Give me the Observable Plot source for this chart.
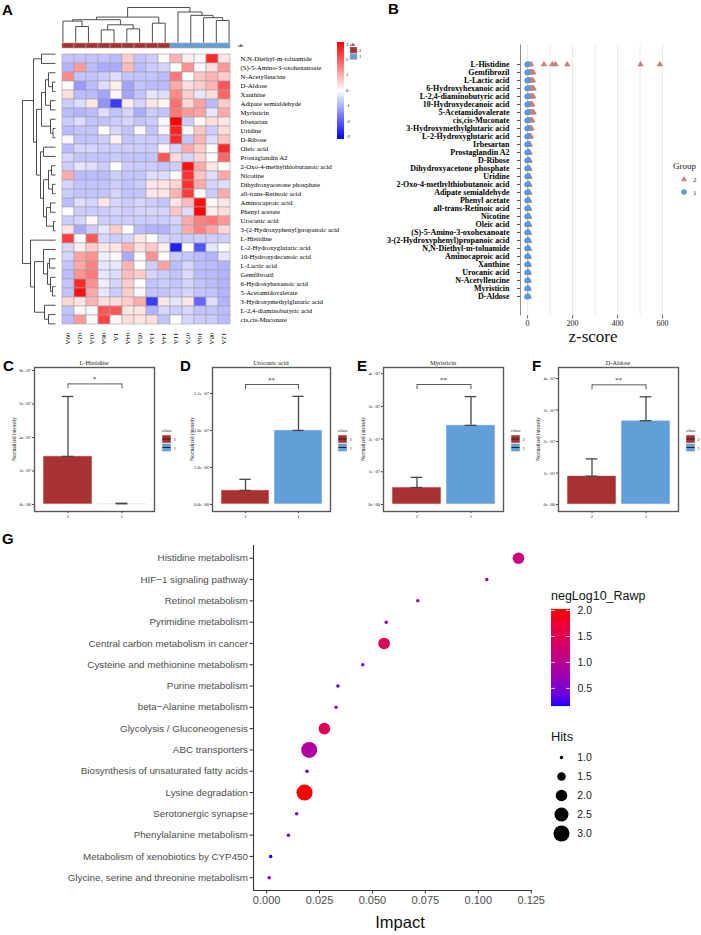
<!DOCTYPE html>
<html><head><meta charset="utf-8">
<script src="https://cdn.jsdelivr.net/npm/d3@7"></script>
<script src="https://cdn.jsdelivr.net/npm/@observablehq/plot@0.6"></script>
<style>
body{margin:0;background:#fff;}
#root{position:relative;width:701px;height:935px;overflow:hidden;background:#fff;}
</style></head><body><div id="root"></div><script>
// ---------------- DATA ----------------
// Panel A heatmap
const hmCols = ["09A","02A","03A","06A","1A","04A","05A","13A","14A","11A","07A","10A","08A","12A"];
const hmClass = [2,2,2,2,2,2,2,2,2,1,1,1,1,1];
const hmRows = ["N,N-Diethyl-m-toluamide","(S)-5-Amino-3-oxohexanoate","N-Acetylleucine","D-Aldose","Xanthine","Adipate semialdehyde","Myristicin","Irbesartan","Uridine","D-Ribose","Oleic acid","Prostaglandin A2","2-Oxo-4-methylthiobutanoic acid","Nicotine","Dihydroxyacetone phosphate","all-trans-Retinoic acid","Aminocaproic acid","Phenyl acetate","Urocanic acid","3-(2-Hydroxyphenyl)propanoic acid","L-Histidine","L-2-Hydroxyglutaric acid","10-Hydroxydecanoic acid","L-Lactic acid","Gemfibrozil","6-Hydroxyhexanoic acid","5-Acetamidovalerate","3-Hydroxymethylglutaric acid","L-2,4-diaminobutyric acid","cis,cis-Muconate"];
const hmValues = [
 [-0.7,-0.7,-0.7,-0.7,-0.8,0.6,-0.7,-0.6,0.1, 0.9,0.2,0.1,2.5,0.3],
 [-0.9,1.2,-0.8,-1.0,-1.0,0.8,-0.8,-0.6,-0.5, 0.0,1.3,-0.1,0.4,1.2],
 [1.4,-0.7,-0.7,-0.6,-0.4,-0.7,-0.7,-0.7,-0.8, 1.6,0.0,0.7,0.9,0.6],
 [0.05,-1.2,-0.8,-0.4,0.2,-1.1,-0.7,-0.8,-0.8, 1.0,0.4,0.6,0.9,2.0],
 [0.4,-0.8,-0.8,-1.1,0.1,-1.1,-0.7,-0.3,-0.4, 1.4,0.6,-0.3,0.4,1.8],
 [-0.6,-0.4,0.3,-1.3,-2.3,0.2,-0.5,0.3,0.15, 1.7,0.5,1.1,-0.8,0.6],
 [-0.8,-0.9,-0.8,-0.4,-0.7,-0.5,-1.0,-0.6,-0.7, 1.6,1.2,1.1,-0.3,1.0],
 [-0.6,-0.4,-0.7,-0.7,-0.6,-0.5,-0.7,-0.6,-0.1, 3.0,-0.6,0.1,0.4,0.3],
 [-0.8,-0.7,-0.7,0.0,-0.5,-0.7,-0.1,-0.7,-0.1, 2.6,0.1,0.7,-0.6,0.4],
 [-0.1,-0.7,-0.7,-0.6,0.15,-0.7,-0.6,-0.6,-0.6, 2.5,-0.7,0.9,-0.4,0.7],
 [-0.8,-0.5,-0.5,-0.6,-0.6,-0.6,-0.6,-0.6,0.1, -0.5,1.0,0.6,0.05,2.5],
 [-0.5,-0.7,-0.7,-0.7,-0.6,-0.7,-0.7,-0.7,2.0, 0.4,-0.5,0.5,0.0,1.8],
 [-0.6,-0.3,-0.4,-0.6,0.0,-0.6,-0.6,-0.6,-0.7, -0.6,2.8,1.0,0.3,0.05],
 [1.0,-0.8,-0.8,-0.8,-0.6,-0.7,-0.7,-0.4,-0.4, 0.05,2.4,0.7,-0.4,1.0],
 [-0.5,-0.7,-0.7,-0.7,-0.6,-0.7,-0.6,0.3,0.3, 0.5,2.4,1.0,-0.5,-0.4],
 [-0.6,-0.7,-0.7,-0.7,-0.5,-0.7,-0.7,0.3,0.3, 0.9,2.3,0.0,-0.6,1.0],
 [-0.8,-0.4,-0.5,0.3,-0.5,-0.6,-0.5,-0.6,-0.7, 0.3,0.8,2.8,0.1,0.3],
 [0.05,-0.6,-0.6,-0.6,-0.5,-0.6,-0.5,-0.5,-0.5, 0.7,-0.4,3.0,0.2,0.4],
 [-0.6,-0.5,0.1,-0.6,-0.6,-0.6,-0.6,-0.6,-0.6, -0.5,1.0,1.5,1.6,1.2],
 [0.3,-1.0,-0.6,-0.3,0.6,0.0,-0.8,-0.9,-0.9, -0.6,1.0,1.5,1.1,0.5],
 [2.3,0.0,2.0,-0.5,-0.6,-0.5,0.3,0.0,-0.5, -0.6,-0.6,-0.6,-0.6,-0.6],
 [-0.5,0.2,0.6,0.3,0.3,0.9,0.4,0.6,0.2, -2.6,0.0,-2.0,-0.3,0.0],
 [-0.5,1.1,1.3,-0.2,0.1,-1.0,0.0,1.3,0.0, -0.6,-0.7,-0.8,-0.9,-0.3],
 [-0.7,1.0,1.5,-0.3,-0.3,0.9,0.0,-0.6,1.1, -0.8,-0.5,-0.8,-0.8,-0.9],
 [-0.8,1.3,1.6,-0.3,-0.4,0.8,0.6,-0.5,-0.6, -0.7,-0.4,-0.8,-0.8,-0.9],
 [-0.7,2.5,1.3,-0.2,-0.5,0.6,0.0,-0.7,-0.6, -0.7,-0.5,-0.7,-0.8,-0.9],
 [-0.7,2.8,1.0,-0.3,-0.6,0.6,-0.1,-0.7,-0.7, -0.6,-0.5,-0.7,-0.7,-0.9],
 [0.5,0.3,0.9,0.4,0.4,0.6,1.0,-2.3,0.3, -0.3,0.3,-1.8,-0.4,-0.9],
 [-0.7,0.1,-0.1,2.0,2.0,0.3,0.3,-0.9,-0.5, -0.6,-0.5,-0.7,-0.7,-0.8],
 [-0.8,1.2,0.1,2.2,0.1,0.4,0.3,0.4,-0.7, 0.0,-0.5,-0.6,-0.6,-0.8]
];
const hmLegendTicks = [3,2,1,0,-1,-2,-3];
// dendrograms: [childA, childB, height]; "nK" = K-th merge
const colMerges = [
 ["02A","03A",15.7],["09A","n0",21],["06A","1A",12.4],["04A","05A",13.4],["n2","n3",17.4],
 ["n1","n4",22.4],["13A","14A",19],["n5","n6",25],["08A","12A",21.7],["10A","n8",24.4],
 ["07A","n9",26.7],["11A","n10",30],["n7","n11",34.4]
];
const rowMerges = [
 ["N,N-Diethyl-m-toluamide","(S)-5-Amino-3-oxohexanoate",14],
 ["D-Aldose","Xanthine",3],
 ["N-Acetylleucine","n1",7],
 ["Adipate semialdehyde","Myristicin",5],
 ["n2","n3",10],
 ["Uridine","D-Ribose",2.5],
 ["Irbesartan","n5",5],
 ["n4","n6",14],
 ["Oleic acid","Prostaglandin A2",12],
 ["2-Oxo-4-methylthiobutanoic acid","Nicotine",4],
 ["Dihydroxyacetone phosphate","all-trans-Retinoic acid",3],
 ["n9","n10",7],
 ["Aminocaproic acid","Phenyl acetate",5],
 ["Urocanic acid","3-(2-Hydroxyphenyl)propanoic acid",2],
 ["n12","n13",9],
 ["n11","n14",12],
 ["n8","n15",15],
 ["n7","n16",19],
 ["n0","n17",22],
 ["6-Hydroxyhexanoic acid","5-Acetamidovalerate",3],
 ["Gemfibrozil","n19",5],
 ["10-Hydroxydecanoic acid","L-Lactic acid",6],
 ["n21","n20",8],
 ["L-2-Hydroxyglutaric acid","n22",12],
 ["L-2,4-diaminobutyric acid","cis,cis-Muconate",7],
 ["3-Hydroxymethylglutaric acid","n24",11],
 ["n23","n25",21],
 ["L-Histidine","n26",25],
 ["n18","n27",33]
];

// Panel B
const bNames = ["L-Histidine","Gemfibrozil","L-Lactic acid","6-Hydroxyhexanoic acid","L-2,4-diaminobutyric acid","10-Hydroxydecanoic acid","5-Acetamidovalerate","cis,cis-Muconate","3-Hydroxymethylglutaric acid","L-2-Hydroxyglutaric acid","Irbesartan","Prostaglandin A2","D-Ribose","Dihydroxyacetone phosphate","Uridine","2-Oxo-4-methylthiobutanoic acid","Adipate semialdehyde","Phenyl acetate","all-trans-Retinoic acid","Nicotine","Oleic acid","(S)-5-Amino-3-oxohexanoate","3-(2-Hydroxyphenyl)propanoic acid","N,N-Diethyl-m-toluamide","Aminocaproic acid","Xanthine","Urocanic acid","N-Acetylleucine","Myristicin","D-Aldose"];
const bGroup2 = [
 [2,6,16,73,110,124,176,502,588],
 [1,4,5,9,13,14,19,22,26],
 [2,3,6,8,10,15,17,20,24],
 [1,5,7,11,12,18,21,23,27],
 [0,3,5,10,12,14,19,22,25],
 [1,2,5,6,11,12,16,18,21],
 [2,3,7,8,13,15,21,24,27],
 [0,2,5,6,8,13,14,19,21],
 [1,2,3,6,7,9,13,14,18],
 [0,2,3,4,7,8,11,12,15],
 [0,1,3,3,5,5,7,8,10],
 [1,1,2,4,4,6,6,7,9],
 [0,2,2,3,5,5,6,8,9],
 [0,1,3,3,4,6,6,7,8],
 [1,1,2,4,4,5,7,7,8],
 [0,1,2,3,5,5,6,7,8],
 [0,1,2,2,3,5,5,6,8],
 [1,1,1,3,3,4,6,6,7],
 [0,1,2,2,4,4,5,6,7],
 [0,2,1,3,3,5,5,6,7],
 [0,1,1,2,3,4,6,6,7],
 [0,0,2,2,3,4,4,5,6],
 [1,0,1,2,3,3,4,5,6],
 [0,1,1,2,2,3,5,5,6],
 [0,0,1,2,2,3,4,4,5],
 [0,1,1,1,2,3,3,4,5],
 [0,0,1,2,2,2,3,4,5],
 [1,0,1,1,2,3,3,4,4],
 [0,0,1,1,2,2,3,3,4],
 [0,0,0,1,2,2,2,3,4]
];
const bGroup1 = [
 [-1.1,-0.4,0.2,0.6,1.4],[-1.3,-0.5,0.1,0.8,1.2],[-0.9,-0.6,0.3,0.5,1.5],[-1.2,-0.3,0.0,0.7,1.3],
 [-1.0,-0.7,0.2,0.9,1.1],[-1.4,-0.2,0.1,0.6,1.4],[-0.8,-0.5,0.0,0.5,1.6],[-1.2,-0.6,0.3,0.7,1.0],
 [-1.1,-0.4,0.1,0.9,1.2],[-1.5,-0.3,0.2,0.6,1.3],[-0.9,-0.6,0.0,0.8,1.5],[-1.0,-0.5,0.1,0.5,1.4],
 [-1.3,-0.4,0.2,0.7,1.2],[-1.1,-0.7,0.3,0.6,1.1],[-0.8,-0.5,0.1,0.9,1.3],[-1.2,-0.3,0.0,0.6,1.5],
 [-1.4,-0.6,0.2,0.7,1.2],[-1.0,-0.4,0.1,0.8,1.0],[-1.1,-0.5,0.3,0.5,1.4],[-0.9,-0.6,0.2,0.6,1.3],
 [-1.3,-0.4,0.0,0.8,1.1],[-1.2,-0.5,0.1,0.7,1.5],[-1.0,-0.7,0.2,0.6,1.2],[-1.1,-0.3,0.1,0.9,1.4],
 [-0.9,-0.5,0.2,0.5,1.3],[-1.4,-0.6,0.3,0.7,1.1],[-1.2,-0.4,0.0,0.6,1.6],[-1.0,-0.5,0.1,0.8,1.2],
 [-1.1,-0.6,0.2,0.7,1.3],[-1.3,-0.4,0.1,0.6,1.4]
];
const bXDomain = [-31.5, 617.5];
const bTicks = [0,200,400,600];
const bGrid = [0,100,200,300,400,500,600];

// Panels C-F
const cfGroups = ["2","1"];
const cfTitles = ["L-Histidine","Urocanic acid","Myristicin","D-Aldose"];
const cfLetters = ["C","D","E","F"];
const cfMeans = [[2.87e7,0.04e7],[1.9e6,1.0e7],[0.52e7,2.42e7],[0.9e7,2.66e7]];
const cfUpper = [[6.45e7,0.07e7],[3.4e6,1.46e7],[0.83e7,3.3e7],[1.45e7,3.42e7]];
const cfBracket = [7.2e7,1.62e7,3.67e7,3.8e7];
const cfSig = ["*","**","**","**"];
const cfTicks = [[0,2e7,4e7,6e7,8e7],[0,5e6,1e7,1.5e7],[0,1e7,2e7,3e7,4e7],[0,1e7,2e7,3e7,4e7]];
const cfTickLabels = [["0e+00","2e+07","4e+07","6e+07","8e+07"],["0.0e+00","5.0e+06","1.0e+07","1.5e+07"],["0e+00","1e+07","2e+07","3e+07","4e+07"],["0e+00","1e+07","2e+07","3e+07","4e+07"]];
const cfYDomain = [[-0.42e7,8.18e7],[-0.095e7,1.85e7],[-0.214e7,4.19e7],[-0.22e7,4.35e7]];

// Panel G
const gPathways = ["Histidine metabolism","HIF\u22121 signaling pathway","Retinol metabolism","Pyrimidine metabolism","Central carbon metabolism in cancer","Cysteine and methionine metabolism","Purine metabolism","beta\u2212Alanine metabolism","Glycolysis / Gluconeogenesis","ABC transporters","Biosynthesis of unsaturated fatty acids","Lysine degradation","Serotonergic synapse","Phenylalanine metabolism","Metabolism of xenobiotics by CYP450","Glycine, serine and threonine metabolism"];
const gImpact = [0.119,0.104,0.0714,0.0565,0.0555,0.0454,0.0337,0.0328,0.0273,0.0201,0.0191,0.0179,0.0142,0.0103,0.0019,0.0012];
const gHits = [2,1,1,1,2,1,1,1,2,3,1,3,1,1,1,1];
const gNegLog = [1.19,0.78,0.75,0.63,1.47,0.5,0.32,0.72,1.47,0.91,0.32,2.02,0.54,0.45,0.17,0.5];
const gXDomain = [-0.0062,0.1256];
const gXTicks = [0,0.025,0.05,0.075,0.1,0.125];
const gColorDomain = [0.17,2.02];
const gColorTicks = [0.5,1.0,1.5,2.0];
const gHitsLegend = [1,1.5,2,2.5,3];

// ---------------- HELPERS ----------------
const SERIF = "'Liberation Serif','Times New Roman',serif";
const SANS = "'Liberation Sans',Arial,Helvetica,sans-serif";
const RED = "#A83232", BLUE = "#629FD9";
const root = document.getElementById("root");
function put(node, x, y) {
  const d = document.createElement("div");
  d.style.cssText = `position:absolute;left:${x}px;top:${y}px;line-height:0;`;
  d.appendChild(node); root.appendChild(d); return d;
}
function label(text, x, y, css, anchor) {
  const d = document.createElement("div");
  d.textContent = text;
  const tr = anchor === "middle" ? "translate(-50%,-50%)" : anchor === "end" ? "translate(-100%,-50%)" : "translate(0,-50%)";
  d.style.cssText = `position:absolute;left:${x}px;top:${y}px;white-space:nowrap;line-height:1;transform:${tr};${css}`;
  root.appendChild(d); return d;
}
function svgHTML(html, x, y, w, h) {
  const d = document.createElement("div");
  d.style.cssText = `position:absolute;left:${x}px;top:${y}px;`;
  d.innerHTML = `<svg width="${w}" height="${h}" style="overflow:visible;display:block">${html}</svg>`;
  root.appendChild(d);
}
const baseStyle = (font, size, color) => ({fontFamily: font, fontSize: size, color: color || "#000", background: "transparent", overflow: "visible", maxWidth: "none"});
function dendro(leaves, merges) {
  const pos = new Map(leaves.map((l, i) => [l, {p: i, h: 0}]));
  const segs = [];
  merges.forEach(([a, b, h], k) => {
    const A = pos.get(a), B = pos.get(b);
    segs.push({p1: A.p, h1: A.h, p2: A.p, h2: h});
    segs.push({p1: B.p, h1: B.h, p2: B.p, h2: h});
    segs.push({p1: A.p, h1: h, p2: B.p, h2: h});
    pos.set("n" + k, {p: (A.p + B.p) / 2, h});
  });
  return segs;
}
const panelLab = "font:bold 15px " + SANS + ";color:#000;";

// ---------------- PANEL A ----------------
const hmData = hmRows.flatMap((r, i) => hmCols.map((c, j) => ({row: r, col: c, v: hmValues[i][j]})));
const hmColor = {type: "linear", domain: [-3, 0, 3], range: ["#0000ff", "#ffffff", "#ff0000"]};
put(Plot.plot({
  width: 340, height: 350, marginLeft: 56, marginRight: 105, marginTop: 49, marginBottom: 22,
  style: baseStyle(SERIF, "6.8px"),
  x: {domain: hmCols, padding: 0},
  y: {domain: hmRows, padding: 0},
  color: hmColor,
  marks: [
    Plot.cell(hmData, {x: "col", y: "row", fill: "v", stroke: "#a3a3a3", strokeWidth: 0.6}),
    Plot.axisY({anchor: "right", tickSize: 0, tickPadding: 5, label: null}),
    Plot.axisX({anchor: "bottom", tickSize: 0, tickPadding: 4, tickRotate: 90, label: null, fontSize: 7})
  ]
}), 0, 0);
// class bar
put(Plot.plot({
  width: 340, height: 5, marginLeft: 56, marginRight: 105, marginTop: 0, marginBottom: 0,
  style: baseStyle(SERIF, "6px"),
  x: {domain: hmCols, padding: 0, axis: null},
  color: {domain: [2, 1], range: [RED, BLUE]},
  marks: [Plot.cell(hmCols.map((c, i) => ({col: c, cls: hmClass[i]})), {x: "col", fill: "cls", stroke: "#a3a3a3", strokeWidth: 0.6})]
}), 0, 42.5);
// column dendrogram
const colSegs = dendro(hmCols, colMerges);
put(Plot.plot({
  width: 340, height: 42, marginLeft: 56, marginRight: 105, marginTop: 7, marginBottom: 0,
  style: baseStyle(SERIF, "6px"),
  x: {domain: [-0.5, hmCols.length - 0.5], axis: null},
  y: {domain: [0, d3.max(colMerges, d => d[2])], axis: null},
  marks: [Plot.link(colSegs, {x1: "p1", y1: "h1", x2: "p2", y2: "h2", stroke: "#3a3a3a", strokeWidth: 0.9})]
}), 0, 0);
// row dendrogram
const rowSegs = dendro(hmRows, rowMerges);
put(Plot.plot({
  width: 56, height: 350, marginLeft: 22, marginRight: 1, marginTop: 49, marginBottom: 22,
  style: baseStyle(SERIF, "6px"),
  x: {domain: [d3.max(rowMerges, d => d[2]), 0], axis: null},
  y: {domain: [hmRows.length - 0.5, -0.5], axis: null},
  marks: [Plot.link(rowSegs, {x1: "h1", y1: "p1", x2: "h2", y2: "p2", stroke: "#3a3a3a", strokeWidth: 0.9})]
}), 0, 0);
label("cls", 238, 45, `font:bold 4.6px ${SERIF};`);
// heatmap color legend
{
  const d = document.createElement("div");
  d.style.cssText = "position:absolute;left:337px;top:42px;width:7px;height:97px;background:linear-gradient(to bottom,#ff0000,#ffffff,#0000ff);";
  root.appendChild(d);
  hmLegendTicks.forEach((t, i) => label(String(t), 346, 43.5 + i * 15.4, `font:4.6px ${SERIF};`));
  label("cls", 350, 44, `font:bold 4.6px ${SERIF};`);
  svgHTML(`<rect x="0" y="0" width="7" height="6" fill="${RED}" stroke="#aaa" stroke-width="0.4"/><rect x="0" y="6.5" width="7" height="6" fill="${BLUE}" stroke="#aaa" stroke-width="0.4"/>`, 350, 46.5, 8, 13);
  label("2", 359, 49.5, `font:4.6px ${SERIF};`);
  label("1", 359, 56, `font:4.6px ${SERIF};`);
}
label("A", 2, 9, panelLab);

// ---------------- PANEL B ----------------
const bData2 = bNames.flatMap((n, i) => bGroup2[i].map(v => ({name: n, v})));
const bData1 = bNames.flatMap((n, i) => bGroup1[i].map(v => ({name: n, v})));
put(Plot.plot({
  width: 330, height: 345, marginLeft: 180, marginRight: 4, marginTop: 44.6, marginBottom: 29.6,
  style: baseStyle(SERIF, "8px"),
  x: {domain: bXDomain},
  y: {domain: bNames, type: "point", padding: 0.6},
  marks: [
    Plot.ruleX(bGrid, {stroke: "#e3e3e3", strokeWidth: 0.8}),
    Plot.ruleX([bXDomain[0]], {stroke: "#8a8a8a", strokeWidth: 1}),
    Plot.axisY({tickSize: 3, tickPadding: 8, fontWeight: "bold", fontSize: 8, label: null, stroke: "#555"}),
    Plot.axisX({ticks: bTicks, tickSize: 3, tickPadding: 1, label: null, stroke: "#555", fill: "#222"}),
    Plot.dot(bData2, {x: "v", y: "name", symbol: "triangle", r: 2.4, fill: "#C9807B"}),
    Plot.dot(bData1, {x: "v", y: "name", r: 2.8, fill: "#5B9BD5"})
  ]
}), 340, 0);
label("z-score", 593, 337, `font:17px ${SERIF};color:#111;`, "middle");
label("Group", 673, 166, `font:9px ${SERIF};color:#222;`);
svgHTML(`<path d="M0,-3 L3,2.2 L-3,2.2 Z" transform="translate(4,4)" fill="#C9807B"/><circle cx="4" cy="17" r="2.8" fill="#5B9BD5"/>`, 680, 175, 10, 22);
label("2", 693, 179.5, `font:7px ${SERIF};color:#222;`);
label("1", 693, 192.5, `font:7px ${SERIF};color:#222;`);
label("B", 388, 8, panelLab);

// ---------------- PANELS C-F ----------------
const cfFrameLeft = [34, 212, 383, 558];
const cfFrameW = [120, 118, 120, 120];
const cfLetterX = [3, 180, 357, 532];
cfTitles.forEach((title, k) => {
  const rows = cfGroups.map((g, j) => ({g, mean: cfMeans[k][j], hi: cfUpper[k][j]}));
  const br = cfBracket[k];
  const drop = (cfYDomain[k][1] - cfYDomain[k][0]) * 0.035;
  const labels = cfTickLabels[k];
  const fl = cfFrameLeft[k], fw = cfFrameW[k];
  const bandStep = fw / 2.2;
  const capInset = bandStep * 0.9 * 0.38;
  put(Plot.plot({
    width: fw + 36, height: 170, marginLeft: 34, marginRight: 2, marginTop: 12, marginBottom: 14,
    style: baseStyle(SERIF, "4.6px", "#222"),
    x: {domain: cfGroups, paddingInner: 0.1, paddingOuter: 0.15},
    y: {domain: cfYDomain[k]},
    color: {domain: cfGroups, range: [RED, BLUE]},
    marks: [
      Plot.barY(rows, {x: "g", y: "mean", fill: "g", stroke: "#f2f2f2", strokeWidth: 0.6}),
      Plot.ruleX(rows, {x: "g", y1: "mean", y2: "hi", stroke: "#474747", strokeWidth: 1.3}),
      Plot.tickY(rows, {x: "g", y: "hi", stroke: "#474747", strokeWidth: 1.3, insetLeft: capInset, insetRight: capInset}),
      Plot.tickY(rows, {x: "g", y: "mean", stroke: "#474747", strokeWidth: 1.3, insetLeft: capInset, insetRight: capInset}),
      Plot.link([{a: cfGroups[0], b: cfGroups[1]}], {x1: "a", x2: "b", y1: () => br, y2: () => br, stroke: "#333", strokeWidth: 0.8}),
      Plot.ruleX(cfGroups, {x: d => d, y1: () => br, y2: () => br - drop, stroke: "#333", strokeWidth: 0.8}),
      Plot.text([cfSig[k]], {y: () => br, text: d => d, dy: -2.5, fontSize: 7, fill: "#111", lineAnchor: "bottom"}),
      Plot.frame({stroke: "#5a5a5a", strokeWidth: 1.4}),
      Plot.axisY({ticks: cfTicks[k], tickFormat: (d, i) => labels[i], tickSize: 2, tickPadding: 1.5, label: null, stroke: "#444"}),
      Plot.axisX({tickSize: 2, tickPadding: 1.5, label: null, stroke: "#444"})
    ]
  }), fl - 34, 355);
  label(title, fl + fw / 2, 361.5, `font:6.3px ${SERIF};color:#222;`, "middle");
  const yt = label("Normalized intensity", fl - 20, 439, `font:5.2px ${SERIF};color:#222;`, "middle");
  yt.style.transform = "translate(-50%,-50%) rotate(-90deg)";
  const lx = fl + fw + 8;
  label("class", lx, 430, `font:4.8px ${SERIF};color:#222;`);
  svgHTML(`<rect x="0" y="0" width="9" height="8" fill="${RED}" stroke="#eee" stroke-width="0.5"/><line x1="0.5" x2="8.5" y1="4" y2="4" stroke="#222" stroke-width="1"/>
    <rect x="0" y="8.5" width="9" height="8" fill="${BLUE}" stroke="#eee" stroke-width="0.5"/><line x1="0.5" x2="8.5" y1="12.5" y2="12.5" stroke="#222" stroke-width="1"/>`, lx, 435, 10, 17);
  label("2", lx + 11.5, 439, `font:4.6px ${SERIF};color:#222;`);
  label("1", lx + 11.5, 447.5, `font:4.6px ${SERIF};color:#222;`);
  label(cfLetters[k], cfLetterX[k], 365, panelLab);
});

// ---------------- PANEL G ----------------
const gData = gPathways.map((p, i) => ({idx: i, impact: gImpact[i], hits: gHits[i], neglog: gNegLog[i]}));
const gYDomain = [gPathways.length - 0.4, -0.6];
const gColor = {type: "linear", domain: gColorDomain, range: ["#0000ff", "#ff0000"], interpolate: "lab"};
const gR = {type: "sqrt", transform: v => v - 0.8996, domain: [0, 2.1004], range: [0, 8]};
put(Plot.plot({
  width: 700, height: 400, marginLeft: 253, marginRight: 168, marginTop: 10, marginBottom: 45,
  style: baseStyle(SANS, "10px", "#4d4d4d"),
  x: {domain: gXDomain},
  y: {domain: gYDomain},
  color: gColor,
  r: gR,
  marks: [
    Plot.ruleX([gXDomain[0]], {stroke: "#333", strokeWidth: 1.1}),
    Plot.ruleY([gYDomain[0]], {stroke: "#333", strokeWidth: 1.1}),
    Plot.axisY({ticks: gData.map(d => d.idx), tickFormat: i => gPathways[i], tickSize: 3.5, tickPadding: 2, label: null, stroke: "#333", fill: "#4d4d4d", fontSize: 9.8}),
    Plot.axisX({ticks: gXTicks, tickFormat: d3.format(".3f"), tickSize: 3.5, tickPadding: 2, label: null, stroke: "#333", fill: "#4d4d4d", fontSize: 11}),
    Plot.dot(gData, {x: "impact", y: "idx", r: "hits", fill: "neglog"})
  ]
}), 0, 535);
label("Impact", 400, 922, `font:16.5px ${SANS};color:#111;`, "middle");
label("G", 2, 538, panelLab);
// color legend
label("negLog10_Rawp", 551, 595.5, `font:12.5px ${SANS};color:#111;`);
put(Plot.plot({
  width: 50, height: 115, marginLeft: 0, marginRight: 31, marginTop: 9, marginBottom: 10,
  style: baseStyle(SANS, "10.5px", "#1a1a1a"),
  x: {axis: null},
  y: {domain: gColorDomain},
  color: gColor,
  marks: [
    Plot.ruleY(d3.range(gColorDomain[0], gColorDomain[1] + 0.001, 0.005), {y: d => d, stroke: d => d, strokeWidth: 1.2}),
    Plot.tickY(gColorTicks, {y: d => d, stroke: "white", strokeWidth: 0.8, insetRight: 15}),
    Plot.tickY(gColorTicks, {y: d => d, stroke: "white", strokeWidth: 0.8, insetLeft: 15}),
    Plot.axisY({anchor: "right", ticks: gColorTicks, tickFormat: d3.format(".1f"), tickSize: 0, tickPadding: 7, label: null})
  ]
}), 551, 600);
// hits legend
label("Hits", 551, 736, `font:12.8px ${SANS};color:#111;`);
put(Plot.plot({
  width: 60, height: 100, marginLeft: 11, marginRight: 29, marginTop: 12, marginBottom: 12,
  style: baseStyle(SANS, "10.5px", "#1a1a1a"),
  x: {axis: null},
  y: {domain: gHitsLegend, type: "point", padding: 0, axis: null},
  r: gR,
  marks: [
    Plot.dot(gHitsLegend, {y: d => d, r: d => d, fill: "black"}),
    Plot.text(gHitsLegend, {y: d => d, text: d => d3.format(".1f")(d), dx: 15.7, textAnchor: "start"})
  ]
}), 540, 745);
</script></body></html>
